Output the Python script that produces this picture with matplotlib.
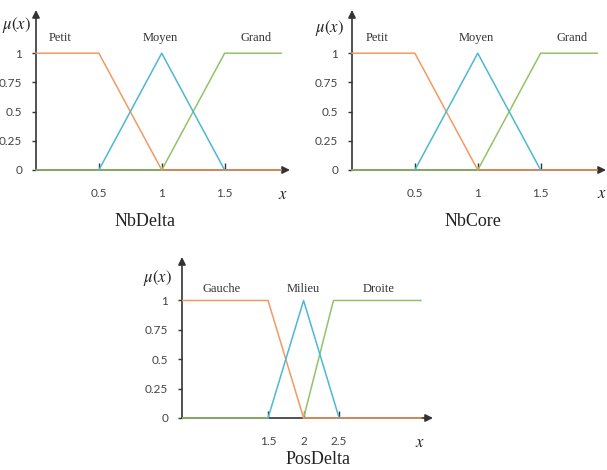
import matplotlib.pyplot as plt
import numpy as np

plt.rcParams['mathtext.fontset'] = 'stix'

# NbDelta / NbCore membership functions (same shape)
nb_ticks = [0.5, 1, 1.5]
nb_labels = ['Petit', 'Moyen', 'Grand']
petit_x = [0, 0.5, 1, 1.95]
petit_y = [1, 1, 0, 0]
moyen_x = [0.5, 1, 1.5]
moyen_y = [0, 1, 0]
grand_x = [0, 1, 1.5, 1.95]
grand_y = [0, 0, 1, 1]

# PosDelta membership functions
pos_ticks = [1.5, 2, 2.5]
pos_labels = ['Gauche', 'Milieu', 'Droite']
gauche_x = [0.3, 1.5, 2, 3.65]
gauche_y = [1, 1, 0, 0]
milieu_x = [1.5, 2, 2.5]
milieu_y = [0, 1, 0]
droite_x = [0.3, 1.5, np.nan, 2, 2.42, 3.65]
droite_y = [0, 0, np.nan, 0, 1, 1]

y_ticks = [0, 0.25, 0.5, 0.75, 1]
titles = ['NbDelta', 'NbCore', 'PosDelta']

ORANGE = '#f39a63'
BLUE = '#4db8d3'
GREEN = '#94c267'
AXC = '#333333'

W, H = 607, 470
fig = plt.figure(figsize=(W / 100, H / 100), dpi=100)


def panel(x0, y0, w, h, xlim, series, labels, label_x, label_y, ticks, title, title_xy, mu_xy, xl_xy):
    ax = fig.add_axes([x0 / W, 1 - y0 / H, w / W, h / H])
    ax.set_xlim(*xlim)
    ax.set_ylim(0, 1.37)
    for s in ax.spines.values():
        s.set_visible(False)
    # axes arrows
    ax.annotate('', xy=(1, 0), xytext=(0, 0), xycoords='axes fraction',
                arrowprops=dict(arrowstyle='-|>', color=AXC, lw=1.2, mutation_scale=11,
                                shrinkA=0, shrinkB=0), zorder=1)
    ax.annotate('', xy=(0, 1), xytext=(0, 0), xycoords='axes fraction',
                arrowprops=dict(arrowstyle='-|>', color=AXC, lw=1.2, mutation_scale=11,
                                shrinkA=0, shrinkB=0), zorder=1)
    for (xs, ys, c) in series:
        ax.plot(xs, ys, color=c, lw=1.1, zorder=3, clip_on=False)
    ax.set_xticks(ticks)
    ax.set_xticklabels([str(t) for t in ticks])
    ax.set_yticks(y_ticks)
    ax.set_yticklabels(['0', '0.25', '0.5', '0.75', '1'])
    ax.tick_params(axis='x', direction='in', length=5, width=1, color=AXC, pad=13,
                   labelsize=8.5, labelcolor='#444444')
    ax.tick_params(axis='y', direction='out', length=3, width=1, color=AXC, pad=7,
                   labelsize=8.5, labelcolor='#444444')
    for lab in ax.get_xticklabels() + ax.get_yticklabels():
        lab.set_family('Lato')
    for t, lx in zip(labels, label_x):
        ax.text(lx, label_y, t, ha='center', va='center', family='Liberation Serif',
                fontsize=9, color='#333333')
    fig.text(title_xy[0] / W, 1 - title_xy[1] / H, title, ha='center', va='center',
             family='Liberation Serif', fontsize=13, color='#222222')
    fig.text(mu_xy[0] / W, 1 - mu_xy[1] / H, r'$\mu(x)$', ha='center', va='center',
             fontsize=12, color='#222222')
    fig.text(xl_xy[0] / W, 1 - xl_xy[1] / H, r'$x$', ha='center', va='center',
             fontsize=12, color='#222222')
    return ax


nb_series = [(petit_x, petit_y, ORANGE), (grand_x, grand_y, GREEN), (moyen_x, moyen_y, BLUE)]
panel(36, 170, 254, 160, (0, 2.02), nb_series, nb_labels, [0.19, 0.99, 1.75], 1.13,
      nb_ticks, 'NbDelta', (145, 221), (16, 25), (283, 194))
panel(352, 170, 254, 160, (0, 2.02), nb_series, nb_labels, [0.2, 0.99, 1.75], 1.13,
      nb_ticks, 'NbCore', (473, 221), (329, 28), (602, 193))

pos_series = [(droite_x, droite_y, GREEN), (gauche_x, gauche_y, ORANGE), (milieu_x, milieu_y, BLUE)]
panel(182, 418, 251, 161, (0.29, 3.82), pos_series, pos_labels, [0.84, 1.99, 3.06], 1.10,
      pos_ticks, 'PosDelta', (318, 460), (157, 278), (420, 442))

fig.savefig('out.png', dpi=100)
